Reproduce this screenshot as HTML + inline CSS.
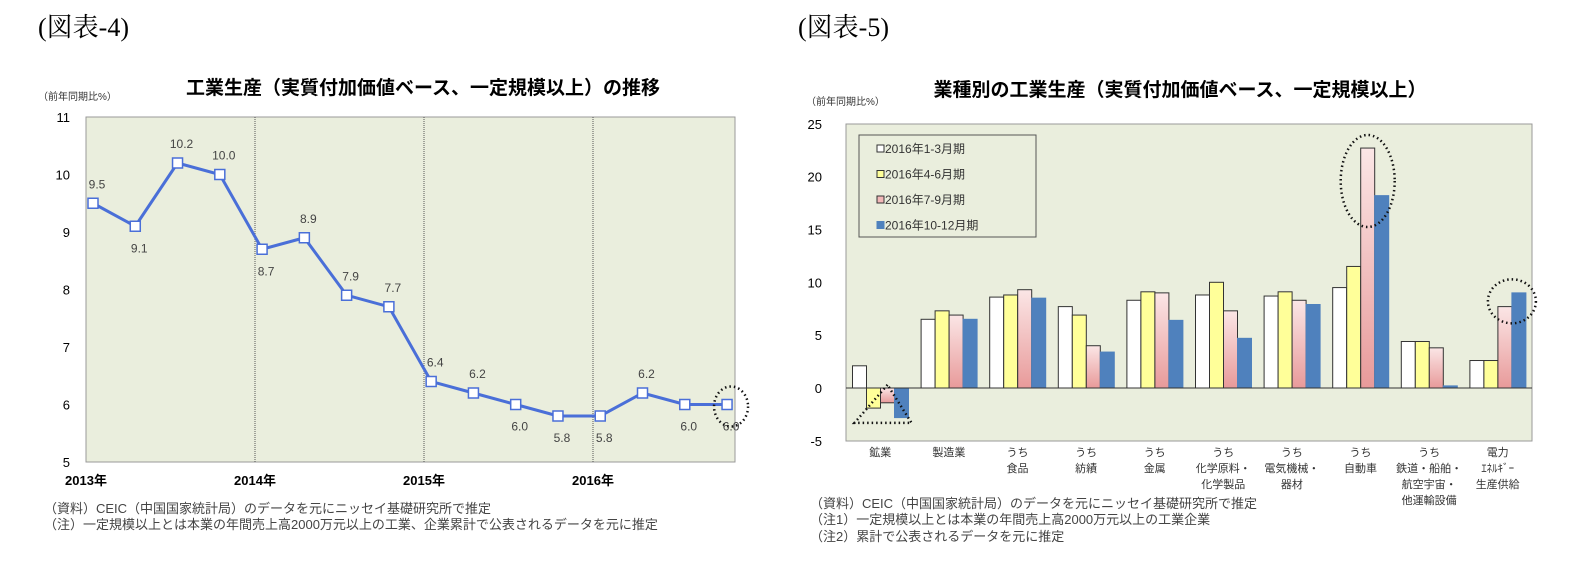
<!DOCTYPE html>
<html><head><meta charset="utf-8"><style>
body{margin:0;background:#fff;width:1582px;height:568px;overflow:hidden}
svg{display:block;font-family:"Liberation Sans","Noto Sans CJK JP",sans-serif}
</style></head><body>
<svg id="s" width="1582" height="568" xmlns="http://www.w3.org/2000/svg">
<defs>
<linearGradient id="gp" x1="0" y1="0" x2="0" y2="1"><stop offset="0" stop-color="#fbe6e6"/><stop offset="1" stop-color="#e89a9a"/></linearGradient>
</defs>
<text x="38" y="36" font-size="26" font-family="'Liberation Serif','Noto Serif CJK SC',serif">(図表-4)</text>
<text x="798" y="36" font-size="26" font-family="'Liberation Serif','Noto Serif CJK SC',serif">(図表-5)</text>
<g id="left">
<text x="423" y="94" font-size="19" font-weight="bold" text-anchor="middle">工業生産（実質付加価値ベース、一定規模以上）の推移</text>
<text x="38" y="100" font-size="10" fill="#333">（前年同期比%）</text>
<rect x="86" y="117" width="649" height="345" fill="#eaeedd" stroke="#999"/>
</g>
<g id="right">
<text x="1180" y="96" font-size="19" font-weight="bold" text-anchor="middle">業種別の工業生産（実質付加価値ベース、一定規模以上）</text>
<text x="806" y="105" font-size="10" fill="#333">（前年同期比%）</text>
<rect x="846" y="124" width="686" height="317" fill="#eaeedd" stroke="#999"/>
</g>
<g font-size="13" fill="#444">
<text x="44" y="513">（資料）CEIC（中国国家統計局）のデータを元にニッセイ基礎研究所で推定</text>
<text x="44" y="529">（注）一定規模以上とは本業の年間売上高2000万元以上の工業、企業累計で公表されるデータを元に推定</text>
</g>
<g font-size="13" fill="#444">
<text x="810" y="508">（資料）CEIC（中国国家統計局）のデータを元にニッセイ基礎研究所で推定</text>
<text x="810" y="524">（注1）一定規模以上とは本業の年間売上高2000万元以上の工業企業</text>
<text x="810" y="541">（注2）累計で公表されるデータを元に推定</text>
</g>
</svg>
<script>
const lineValues=[9.5,9.1,10.2,10.0,8.7,8.9,7.9,7.7,6.4,6.2,6.0,5.8,5.8,6.2,6.0,6.0];
const lineLabelPos=[1,-1,1,1,-1,1,1,1,1,1,-1,-1,-1,1,-1,-1];
const yTicksL=[5,6,7,8,9,10,11];
const yearLabels=["2013年","2014年","2015年","2016年"];
const categories=[["鉱業"],["製造業"],["うち","食品"],["うち","紡績"],["うち","金属"],["うち","化学原料・","化学製品"],["うち","電気機械・","器材"],["うち","自動車"],["うち","鉄道・船舶・","航空宇宙・","他運輸設備"],["電力","ｴﾈﾙｷﾞｰ","生産供給"]];
const q1=[2.1,6.5,8.6,7.7,8.3,8.8,8.7,9.5,4.4,2.6];
const q2=[-1.9,7.3,8.8,6.9,9.1,10.0,9.1,11.5,4.4,2.6];
const q3=[-1.4,6.9,9.3,4.0,9.0,7.3,8.3,22.7,3.8,7.7];
const q4=[-2.8,6.5,8.5,3.4,6.4,4.7,7.9,18.2,0.2,9.0];
const seriesNames=["2016年1-3月期","2016年4-6月期","2016年7-9月期","2016年10-12月期"];
const yTicksR=[-5,0,5,10,15,20,25];

const NS="http://www.w3.org/2000/svg";
function mk(p,t,a,txt){const e=document.createElementNS(NS,t);for(const k in a)e.setAttribute(k,a[k]);if(txt!==undefined)e.textContent=txt;p.appendChild(e);return e;}
const L=document.getElementById('left'),R=document.getElementById('right');
const yL=v=>462-(v-5)*57.5;
const xL=i=>86+7+i*42.27;
yTicksL.forEach(v=>{const t=mk(L,'text',{x:70,y:yL(v)+5,'font-size':13,'text-anchor':'end'},v);

});
yearLabels.forEach((s,k)=>{const x=86+k*169;
if(k>0){const ln=mk(L,'line',{x1:x,y1:117,x2:x,y2:462,stroke:'#555','stroke-dasharray':'1,1'});

}
const t=mk(L,'text',{x:x,y:485,'font-size':13,'font-weight':'bold','text-anchor':'middle'},s);

});
const pl=mk(L,'polyline',{points:lineValues.map((v,i)=>xL(i)+','+yL(v)).join(' '),fill:'none',stroke:'#4a6fd8','stroke-width':3});


lineValues.forEach((v,i)=>{const m=mk(L,'rect',{x:xL(i)-5,y:yL(v)-5,width:10,height:10,fill:'#fff',stroke:'#4a6fd8','stroke-width':1.5});


const t=mk(L,'text',{x:xL(i)+4,y:yL(v)+(lineLabelPos[i]>0?-15:26),'font-size':12,fill:'#444','text-anchor':'middle'},v.toFixed(1));

});
const c1=mk(L,'ellipse',{cx:xL(15)+4,cy:yL(6)+2,rx:17,ry:20,fill:'none',stroke:'#111','stroke-width':2.5,'stroke-dasharray':'1.5,3'});


const yR=v=>388-v*10.57;
const gw=68.6,bw=14;
const xR=(g,s)=>846+g*gw+6.5+s*bw;
yTicksR.forEach(v=>{const t=mk(R,'text',{x:822,y:yR(v)+5,'font-size':13,'text-anchor':'end'},v);

});
const fills=['#fff','#ffff99','url(#gp)','#4f81bd'],strokes=['#333','#333','#333','#4f81bd'];
[q1,q2,q3,q4].forEach((arr,s)=>arr.forEach((v,g)=>{const y0=yR(Math.max(v,0)),h=Math.abs(yR(v)-yR(0));
const b=mk(R,'rect',{x:xR(g,s),y:y0,width:bw,height:h,fill:fills[s],stroke:strokes[s],'stroke-width':1});

}));
const zl=mk(R,'line',{x1:846,y1:yR(0),x2:1532,y2:yR(0),stroke:'#333'});


categories.forEach((lines,g)=>{lines.forEach((s,k)=>{const t=mk(R,'text',{x:846+g*gw+gw/2,y:456+k*16,'font-size':11,fill:'#333','text-anchor':'middle'},s);

});});
const lg=mk(R,'rect',{x:859,y:135,width:177,height:102,fill:'#eaeedd',stroke:'#555'});


seriesNames.forEach((n,s)=>{const y=149+s*25.5;
const sw=mk(R,'rect',{x:877,y:y-4,width:7,height:7,fill:fills[s]==='url(#gp)'?'#f2b8b8':fills[s],stroke:strokes[s]});


const t=mk(R,'text',{x:885,y:y+4,'font-size':12,fill:'#333'},n);

});
const e1=mk(R,'ellipse',{cx:xR(7,2)+7,cy:181,rx:27,ry:46,fill:'none',stroke:'#111','stroke-width':2.5,'stroke-dasharray':'1.5,3'});


const e2=mk(R,'ellipse',{cx:xR(9,2)+14,cy:yR(8.2),rx:24,ry:22,fill:'none',stroke:'#111','stroke-width':2.5,'stroke-dasharray':'1.5,3'});


const tr=mk(R,'polygon',{points:(xR(0,2)+7)+','+yR(0.3)+' '+(xR(0,0)+2)+','+yR(-3.3)+' '+(xR(0,3)+17)+','+yR(-3.3),fill:'none',stroke:'#111','stroke-width':2.5,'stroke-dasharray':'1.5,3'});


</script>
</body></html>
